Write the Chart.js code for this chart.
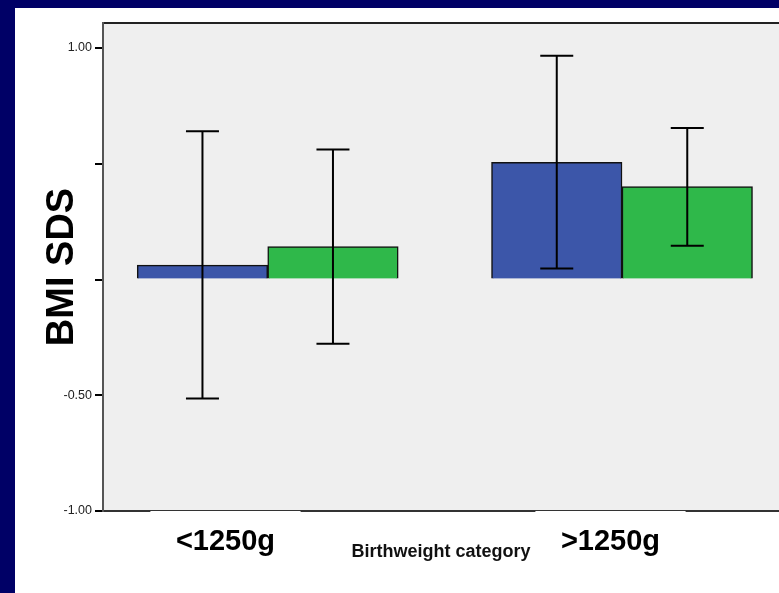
<!DOCTYPE html>
<html>
<head>
<meta charset="utf-8">
<script src="https://cdn.jsdelivr.net/npm/chart.js@4/dist/chart.umd.min.js"></script>
<style>
  html, body { margin: 0; padding: 0; }
  body { width: 779px; height: 593px; background: #000066; position: relative; overflow: hidden; }
  #sheet { position: absolute; left: 15px; top: 8px; width: 764px; height: 585px; background: #ffffff; }
  canvas { display: block; }
</style>
</head>
<body>
<div id="sheet"><canvas id="chart" width="764" height="585"></canvas></div>
<script>
// values
const categories = ['<1250g', '>1250g'];
const seriesNames = ['Group 1', 'Group 2'];
const blueMeans = [0.062, 0.506];
const greenMeans = [0.142, 0.401];
const blueLow = [-0.514, 0.047];
const blueHigh = [0.640, 0.967];
const greenLow = [-0.278, 0.146];
const greenHigh = [0.562, 0.654];
const yTicks = [-1.0, -0.5, 0.0, 0.5, 1.0];
const yTickLabels = ['-1.00', '-0.50', '', '', '1.00'];

const errors = [
    {low: blueLow, high: blueHigh},
    {low: greenLow, high: greenHigh}
];

// grey plot area behind the bars
const plotBackground = {
    id: 'plotBackground',
    beforeDraw(chart) {
        const {ctx, chartArea} = chart;
        ctx.save();
        ctx.fillStyle = '#efefef';
        ctx.fillRect(chartArea.left, chartArea.top, chartArea.right - chartArea.left, chartArea.bottom - chartArea.top);
        ctx.restore();
    }
};

// whiskers on top of each bar
const errorBars = {
    id: 'errorBars',
    afterDatasetsDraw(chart) {
        const ctx = chart.ctx;
        const y = chart.scales.y;
        ctx.save();
        ctx.strokeStyle = '#000000';
        ctx.lineWidth = 2;
        chart.data.datasets.forEach(function(ds, i) {
            const meta = chart.getDatasetMeta(i);
            meta.data.forEach(function(bar, j) {
                const top = y.getPixelForValue(errors[i].high[j]);
                const bottom = y.getPixelForValue(errors[i].low[j]);
                const half = 16.5;
                ctx.beginPath();
                ctx.moveTo(bar.x, top);
                ctx.lineTo(bar.x, bottom);
                ctx.moveTo(bar.x - half, top);
                ctx.lineTo(bar.x + half, top);
                ctx.moveTo(bar.x - half, bottom);
                ctx.lineTo(bar.x + half, bottom);
                ctx.stroke();
            });
        });
        ctx.restore();
    }
};

function toPoints(values) {
    return values.map(function(v, i) { return {x: i + 1, y: v}; });
}

new Chart(document.getElementById('chart'), {
    type: 'bar',
    data: {
        datasets: [
            {
                label: seriesNames[0],
                data: toPoints(blueMeans),
                backgroundColor: '#3c56a9',
                borderColor: '#111111',
                borderWidth: 1.5
            },
            {
                label: seriesNames[1],
                data: toPoints(greenMeans),
                backgroundColor: '#2fb84a',
                borderColor: '#111111',
                borderWidth: 1.5
            }
        ]
    },
    options: {
        responsive: false,
        animation: false,
        barThickness: 130.5,
        layout: {padding: {top: 15, left: 0, right: 0, bottom: 0}},
        plugins: {
            legend: {display: false},
            tooltip: {enabled: false}
        },
        scales: {
            x: {
                type: 'linear',
                position: 'bottom',
                offset: false,
                bounds: 'data',
                min: 0.5351,
                max: 2.4431,
                afterFit(scale) { scale.height = 82; },
                afterBuildTicks(scale) {
                    // label spots sit a little left of the bar groups
                    scale.ticks = [{value: 0.8808}, {value: 1.9675}];
                },
                grid: {display: false, drawTicks: false, offset: false},
                border: {display: true, color: '#333333', width: 2},
                ticks: {
                    autoSkip: false,
                    maxRotation: 0,
                    padding: 14,
                    color: '#000000',
                    font: {family: 'Liberation Sans, Arial, sans-serif', size: 29, weight: 'bold'},
                    showLabelBackdrop: true,
                    backdropColor: '#ffffff',
                    backdropPadding: {top: 15, bottom: 0, left: 25.5, right: 25.5},
                    callback: function(value, index) { return categories[index]; }
                },
                title: {
                    display: true,
                    text: 'Birthweight category',
                    color: '#111111',
                    font: {family: 'Liberation Sans, Arial, sans-serif', size: 18, weight: 'bold'},
                    padding: {top: 0, bottom: 30.5}
                }
            },
            xTop: {
                type: 'linear',
                position: 'top',
                offset: false,
                display: true,
                afterFit(scale) { scale.height = 0; },
                grid: {display: false, drawTicks: false},
                border: {display: true, color: '#222222', width: 2},
                ticks: {display: false}
            },
            y: {
                min: -1,
                max: 1.108,
                afterFit(scale) { scale.width = 88; },
                afterBuildTicks(scale) {
                    scale.ticks = yTicks.map(function(v) { return {value: v}; });
                },
                grid: {
                    display: true,
                    drawOnChartArea: false,
                    drawTicks: true,
                    tickLength: 8,
                    color: '#000000',
                    lineWidth: 2
                },
                border: {display: true, color: '#555555', width: 2},
                ticks: {
                    padding: 3,
                    color: '#222222',
                    font: {family: 'Liberation Sans, Arial, sans-serif', size: 12.5},
                    callback: function(value, index) { return yTickLabels[index]; }
                },
                title: {
                    display: true,
                    text: 'BMI SDS',
                    color: '#000000',
                    font: {family: 'Liberation Sans, Arial, sans-serif', size: 38, weight: 'bold'},
                    padding: {top: 25, bottom: 0}
                }
            }
        }
    },
    plugins: [plotBackground, errorBars]
});
</script>
</body>
</html>
